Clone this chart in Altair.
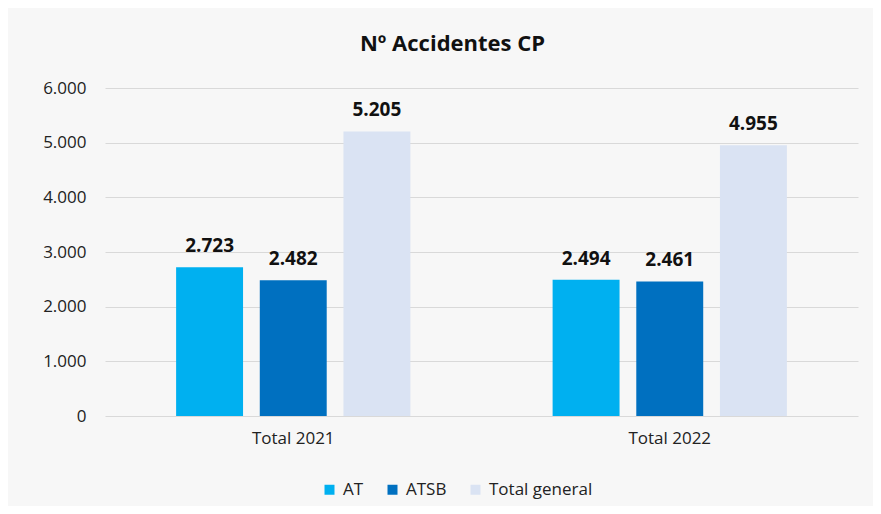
import altair as alt
import pandas as pd

categories = ["Total 2021", "Total 2022"]
series = ["AT", "ATSB", "Total general"]
at_values = [2723, 2494]
atsb_values = [2482, 2461]
total_values = [5205, 4955]
y_ticks = [0, 1000, 2000, 3000, 4000, 5000, 6000]
colors = ["#00B0F0", "#0070C0", "#DAE3F3"]

rows = []
for i, cat in enumerate(categories):
    for s, vals in zip(series, [at_values, atsb_values, total_values]):
        rows.append({"cat": cat, "serie": s, "valor": vals[i]})
df = pd.DataFrame(rows)

FONT = "Open Sans"

base = alt.Chart(df).transform_calculate(
    etiqueta="replace(format(datum.valor, ','), ',', '.')"
)

x_enc = alt.X(
    "cat:N",
    sort=categories,
    title=None,
    scale=alt.Scale(paddingInner=0, paddingOuter=0),
    axis=alt.Axis(labelAngle=0, ticks=False, domain=False, labelPadding=14,
                  labelFontSize=17, labelFont=FONT, labelColor="#222222", grid=False),
)
xoff = alt.XOffset("serie:N", sort=series,
                   scale=alt.Scale(paddingInner=0.2, paddingOuter=0.85))

bars = base.mark_bar().encode(
    x=x_enc,
    xOffset=xoff,
    y=alt.Y(
        "valor:Q",
        title=None,
        scale=alt.Scale(domain=[0, 6000], nice=False),
        axis=alt.Axis(values=y_ticks, ticks=False, domain=False, labelPadding=19,
                      labelFontSize=17, labelFont=FONT, labelColor="#222222",
                      gridColor="#d9d9d9", gridWidth=1,
                      labelExpr="replace(format(datum.value, ','), ',', '.')"),
    ),
    color=alt.Color(
        "serie:N",
        sort=series,
        scale=alt.Scale(domain=series, range=colors),
        legend=alt.Legend(
            title=None, orient="none", direction="horizontal",
            legendX=216, legendY=393, symbolType="square", symbolSize=100,
            symbolStrokeWidth=0, columnPadding=20, labelOffset=5,
            labelFontSize=17, labelFont=FONT, labelColor="#222222",
        ),
    ),
)

labels = base.mark_text(
    baseline="alphabetic", dy=-15, fontSize=19, fontWeight="bold", font=FONT,
    color="#111111",
).encode(
    x=alt.X("cat:N", sort=categories),
    xOffset=xoff,
    y=alt.Y("valor:Q"),
    text="etiqueta:N",
)

chart = alt.layer(bars, labels).properties(
    width=753,
    height=328,
    title=alt.TitleParams(
        "Nº Accidentes CP", font=FONT, fontSize=22, fontWeight="bold",
        color="#111111", anchor="middle", dx=-29, offset=23,
    ),
    background="#f7f7f7",
    padding={"left": 97, "top": 80, "right": 15, "bottom": 90},
    autosize=alt.AutoSizeParams(type="none"),
).configure_view(stroke=None)

chart.save("out.html", embed_options={"renderer": "svg", "actions": False})
